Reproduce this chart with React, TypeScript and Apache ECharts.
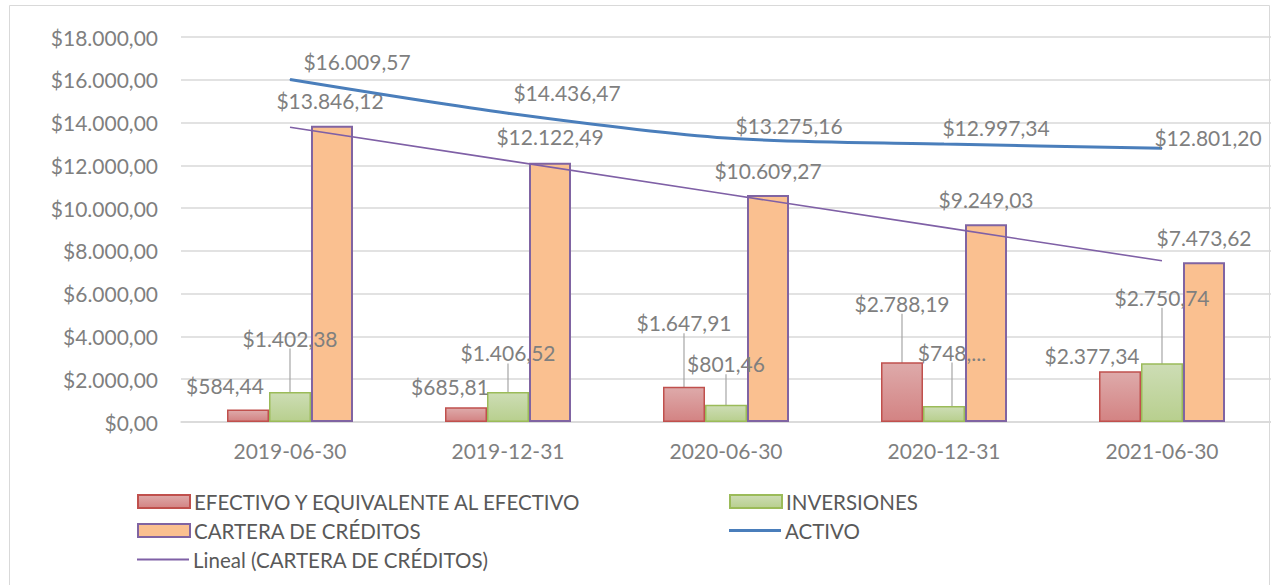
import React, { useEffect, useRef } from "react";
import * as echarts from "echarts";

const categories = ["2019-06-30", "2019-12-31", "2020-06-30", "2020-12-31", "2021-06-30"];
const efectivo = [584.44, 685.81, 1647.91, 2788.19, 2377.34];
const inversiones = [1402.38, 1406.52, 801.46, 748.0, 2750.74];
const cartera = [13846.12, 12122.49, 10609.27, 9249.03, 7473.62];
const activo = [16009.57, 14436.47, 13275.16, 12997.34, 12801.2];
const tendencia = [13784, 12222, 10660, 9098, 7536];
const inversionesTexts: (string | null)[] = [null, null, null, "$748,...", null];

const seriesNames = [
  "EFECTIVO Y EQUIVALENTE AL EFECTIVO",
  "INVERSIONES",
  "CARTERA DE CRÉDITOS",
  "ACTIVO",
  "Lineal (CARTERA DE CRÉDITOS)",
];

// label offsets (relative to the mark) — layout only
const efectivoOff = [[-23, -24], [-16, -21], [0, -64], [0, -59], [-28, -16]];
const efectivoLeader = [false, false, true, true, false];
const inversionesOff = [[0, -54], [0, -39], [0, -41], [8, -54], [0, -66]];
const carteraOff = [[-2, -25], [0, -26], [0, -25], [0, -25], [0, -25]];
const activoOff = [[67, -18], [59, -21], [63, -13], [52, -17], [46, -11]];

const FONT = "Lato, 'Liberation Sans', Arial, sans-serif";
const LABEL_COLOR = "#7f7f7f";

function fmt(v: number): string {
  const [i, d] = v.toFixed(2).split(".");
  return "$" + i.replace(/\B(?=(\d{3})+(?!\d))/g, ".") + "," + d;
}

function barLayout(off: number[][]) {
  return (p: any) => {
    const r = p.rect;
    const o = off[p.dataIndex];
    return {
      x: r.x + r.width / 2 + o[0],
      y: r.y + o[1],
      align: "center",
      verticalAlign: "middle",
    };
  };
}

function pointLayout(off: number[][]) {
  return (p: any) => {
    const r = p.rect;
    const o = off[p.dataIndex];
    return {
      x: r.x + r.width / 2 + o[0],
      y: r.y + r.height / 2 + o[1],
      align: "center",
      verticalAlign: "middle",
    };
  };
}

const labelStyle = {
  show: true,
  position: "top",
  color: LABEL_COLOR,
  fontSize: 21,
  fontFamily: FONT,
};

export default function App() {
  const ref = useRef<HTMLDivElement>(null);
  useEffect(() => {
    document.body.style.margin = "0";
    const chart = echarts.init(ref.current!, null, { renderer: "svg" });
    const legendBase = {
      orient: "horizontal",
      padding: 0,
      itemWidth: 52,
      itemGap: 0,
      selectedMode: false,
      textStyle: { color: "#595959", fontSize: 20.5, fontFamily: FONT, padding: [0, 0, 0, -1] },
    };
    const option: any = {
      animation: false,
      backgroundColor: "#ffffff",
      graphic: [
        {
          type: "rect",
          shape: { x: 9.5, y: 5.5, width: 1260, height: 620 },
          style: { fill: "none", stroke: "#d9d9d9", lineWidth: 1 },
          silent: true,
        },
      ],
      grid: { left: 181, top: 37, width: 1090, height: 385, containLabel: false },
      legend: [
        { ...legendBase, left: 137, top: 491, itemHeight: 13, icon: "rect", data: [seriesNames[0]] },
        { ...legendBase, left: 729, top: 491, itemHeight: 13, icon: "rect", data: [seriesNames[1]] },
        { ...legendBase, left: 137, top: 520, itemHeight: 13, icon: "rect", data: [seriesNames[2]] },
        { ...legendBase, left: 729, top: 520, itemHeight: 3, icon: "rect", data: [seriesNames[3]] },
        { ...legendBase, left: 137, top: 549, itemHeight: 2, icon: "rect", data: [seriesNames[4]] },
      ],
      xAxis: {
        type: "category",
        data: categories,
        axisTick: { show: false },
        axisLine: { lineStyle: { color: "#d9d9d9", width: 1.5 } },
        axisLabel: { color: LABEL_COLOR, fontSize: 21, fontFamily: FONT, margin: 18 },
      },
      yAxis: {
        type: "value",
        min: 0,
        max: 18000,
        interval: 2000,
        axisLine: { show: false },
        axisTick: { show: false },
        splitLine: { lineStyle: { color: "#d9d9d9", width: 1.5 } },
        axisLabel: {
          color: LABEL_COLOR,
          fontSize: 21,
          fontFamily: FONT,
          margin: 23,
          formatter: (v: number) => fmt(v),
        },
      },
      series: [
        {
          name: seriesNames[0],
          type: "bar",
          barWidth: 42,
          barGap: "0%",
          data: efectivo.map((v, i) => ({ value: v, labelLine: { show: efectivoLeader[i] } })),
          itemStyle: {
            color: new echarts.graphic.LinearGradient(0, 0, 0, 1, [
              { offset: 0, color: "#DEAAAA" },
              { offset: 1, color: "#D38383" },
            ]),
            borderColor: "#C0504D",
            borderWidth: 1.5,
          },
          label: { ...labelStyle, formatter: (p: any) => fmt(p.value) },
          labelLine: { show: true, lineStyle: { color: "#a6a6a6", width: 1.2 } },
          labelLayout: barLayout(efectivoOff),
          emphasis: { disabled: true },
        },
        {
          name: seriesNames[1],
          type: "bar",
          barWidth: 42,
          barGap: "0%",
          data: inversiones,
          itemStyle: {
            color: new echarts.graphic.LinearGradient(0, 0, 0, 1, [
              { offset: 0, color: "#CDDDB5" },
              { offset: 1, color: "#B8CF8E" },
            ]),
            borderColor: "#9BBB59",
            borderWidth: 1.5,
          },
          label: {
            ...labelStyle,
            formatter: (p: any) => inversionesTexts[p.dataIndex] ?? fmt(p.value),
          },
          labelLine: { show: true, lineStyle: { color: "#a6a6a6", width: 1.2 } },
          labelLayout: barLayout(inversionesOff),
          emphasis: { disabled: true },
        },
        {
          name: seriesNames[2],
          type: "bar",
          barWidth: 42,
          barGap: "0%",
          data: cartera,
          itemStyle: { color: "#FAC090", borderColor: "#8064A2", borderWidth: 2 },
          label: { ...labelStyle, formatter: (p: any) => fmt(p.value) },
          labelLayout: barLayout(carteraOff),
          emphasis: { disabled: true },
        },
        {
          name: seriesNames[3],
          type: "line",
          data: activo,
          smooth: 0.3,
          symbol: "circle",
          symbolSize: 1,
          showSymbol: true,
          color: "#4A7EBB",
          lineStyle: { color: "#4A7EBB", width: 3 },
          itemStyle: { color: "#4A7EBB" },
          label: { ...labelStyle, formatter: (p: any) => fmt(p.value) },
          labelLayout: pointLayout(activoOff),
          emphasis: { disabled: true },
          z: 3,
        },
        {
          name: seriesNames[4],
          type: "line",
          data: tendencia,
          symbol: "none",
          color: "#7F60A6",
          lineStyle: { color: "#7F60A6", width: 1.6 },
          itemStyle: { color: "#7F60A6" },
          silent: true,
          emphasis: { disabled: true },
          z: 3,
        },
      ],
    };
    chart.setOption(option);
    return () => chart.dispose();
  }, []);
  return (
    <div
      ref={ref}
      style={{ position: "fixed", left: 0, top: 0, width: 1271, height: 585 }}
    />
  );
}
